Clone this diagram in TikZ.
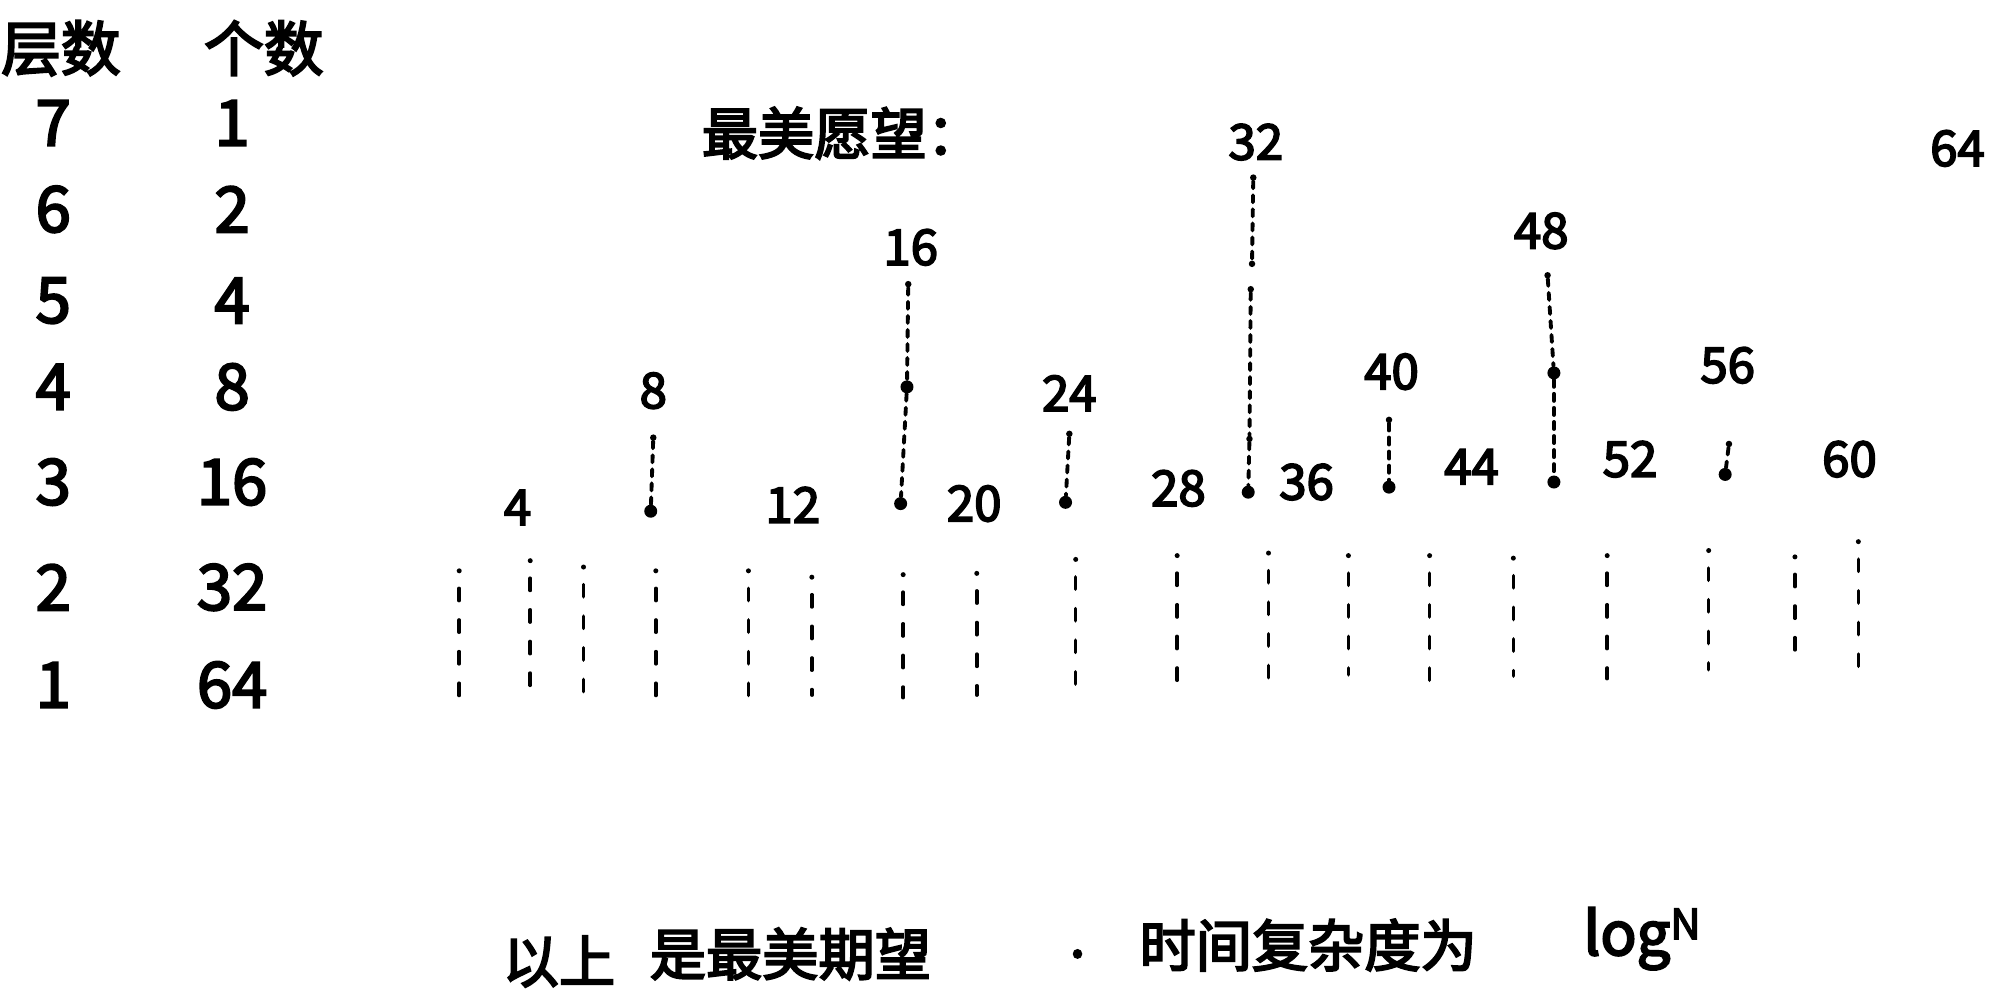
\documentclass[tikz,border=0pt]{standalone}
\usepackage{fontspec}
\setmainfont{Noto Sans CJK SC}[AutoFakeBold=3.5]
\begin{document}
\begin{tikzpicture}[x=0.02537cm,y=-0.02537cm,
  lbl/.style={font=\fontsize{28}{28}\selectfont\bfseries, inner sep=0},
  tab/.style={font=\fontsize{36}{36}\selectfont\bfseries, inner sep=0},
  head/.style={font=\fontsize{34}{34}\selectfont\bfseries, inner sep=0},
  txt/.style={font=\fontsize{32}{32}\selectfont\bfseries, inner sep=0, anchor=west},
  dot/.style={circle, fill=black, inner sep=0, minimum size=0.26cm},
  sdot/.style={circle, fill=black, inner sep=0, minimum size=0.13cm},
  stem/.style={line width=2.2pt, dash pattern=on 4pt off 4pt, line cap=round},
  col/.style={line width=2pt, dash pattern=on 7pt off 11pt, line cap=round}]
\useasboundingbox (0,0) rectangle (1568,788);

% ---- left table ----
\node[head] (h1) at (48,38) {层数};
\node[head] (h2) at (208,38) {个数};
\foreach \i/\a/\b/\y in {1/7/1/97,2/6/2/165,3/5/4/237,4/4/8/305,5/3/16/380,6/2/32/463,7/1/64/540}{
  \node[tab] (l\i) at (42,\y) {\a};
  \node[tab] (r\i) at (183,\y) {\b};
}

% ---- title ----
\node[txt] (title) at (553,105) {最美愿望：};

% ---- labels ----
\foreach \n/\x/\y in {4/408/400, 8/515/308, 12/625/398, 16/718/195, 20/768/397, 24/843/310,
  28/929/385, 32/990/112, 36/1030/380, 40/1097/293, 44/1160/368, 48/1215/182,
  52/1285/362, 56/1362/288, 60/1458/362}{
  \node[lbl] (n\n) at (\x,\y) {\n};
}
\node[lbl, anchor=east] (n64) at (1565,117) {64};

% ---- stems ----
\node[dot] (b8) at (513,403) {};
\node[sdot] (t8) at (515,345) {};
\draw[stem] (t8) -- (b8);

\node[dot] (b16) at (710,397) {};
\node[dot] (m16) at (715,305) {};
\node[sdot] (t16) at (716,224) {};
\draw[stem] (t16) -- (m16);
\draw[stem] (m16) -- (b16);

\node[dot] (b24) at (840,396) {};
\node[sdot] (t24) at (843,342) {};
\draw[stem] (t24) -- (b24);

\node[dot] (b32) at (984,388) {};
\node[sdot] (t32) at (988,140) {};
\node[sdot] (m32a) at (987,208) {};
\node[sdot] (m32b) at (986,228) {};
\node[sdot] (m32c) at (985,346) {};
\draw[stem] (t32) -- (m32a);
\draw[stem] (m32b) -- (m32c);
\draw[stem] (m32c) -- (b32);

\node[dot] (b40) at (1095,384) {};
\node[sdot] (t40) at (1095,331) {};
\draw[stem] (t40) -- (b40);

\node[dot] (b48) at (1225,380) {};
\node[dot] (m48) at (1225,294) {};
\node[sdot] (t48) at (1220,217) {};
\draw[stem] (t48) -- (m48);
\draw[stem] (m48) -- (b48);

\node[dot] (b56) at (1360,374) {};
\node[sdot] (t56) at (1363,350) {};
\draw[stem] (t56) -- (b56);

% ---- bottom columns ----
\foreach \k/\x/\t/\b in {1/362/450/553, 2/418/442/545, 3/460/447/548, 4/517/450/550,
  5/590/450/550, 6/640/455/548, 7/712/453/550, 8/770/452/548, 9/848/441/548,
  10/928/438/538, 11/1000/436/537, 12/1063/438/532, 13/1127/438/537, 14/1193/440/533,
  15/1267/438/535, 16/1347/434/528, 17/1415/439/515, 18/1465/427/532}{
  \coordinate (ct\k) at (\x,\t);
  \coordinate (cb\k) at (\x,\b);
  \node[sdot, minimum size=0.1cm] (cd\k) at (ct\k) {};
  \draw[col] ([yshift=-0.35cm]ct\k) -- (cb\k);
}

% ---- bottom sentence ----
\node[txt] (s1) at (396,758) {以上};
\node[txt] (s2) at (512,752) {是最美期望};
\node[txt] (s3) at (843,752) {.};
\node[txt] (s4) at (898,745) {时间复杂度为};
\node[txt, font=\fontsize{34}{34}\selectfont\bfseries] (s5) at (1248,740) {log\textsuperscript{N}};
\end{tikzpicture}
\end{document}
